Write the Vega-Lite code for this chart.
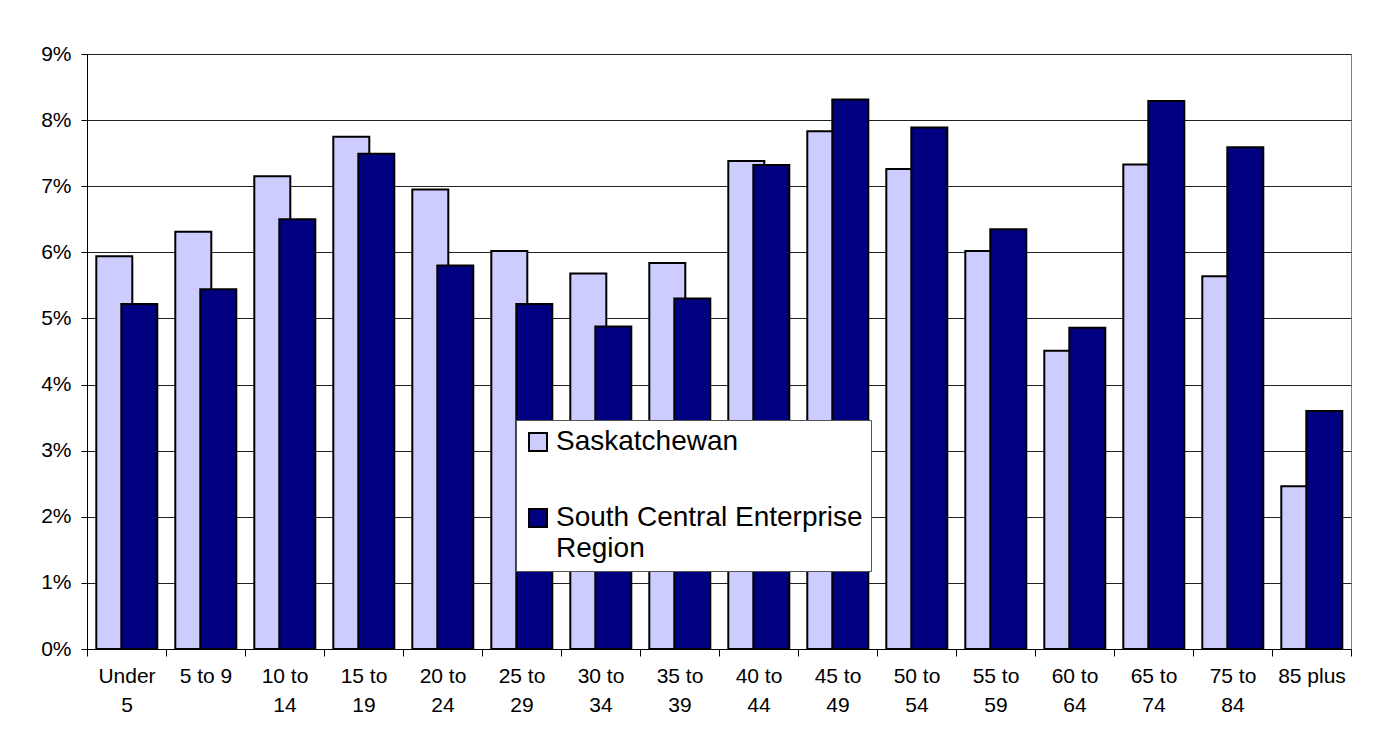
{
  "$schema": "https://vega.github.io/schema/vega-lite/v6.json",
  "width": 1264,
  "height": 595,
  "autosize": {"type": "none"},
  "padding": {"left": 87, "top": 54, "right": 25, "bottom": 104},
  "background": "white",
  "data": {
    "values": [
      {"age": "Under 5", "region": "Saskatchewan", "share": 0.0594},
      {"age": "5 to 9", "region": "Saskatchewan", "share": 0.0631},
      {"age": "10 to 14", "region": "Saskatchewan", "share": 0.0715},
      {"age": "15 to 19", "region": "Saskatchewan", "share": 0.0775},
      {"age": "20 to 24", "region": "Saskatchewan", "share": 0.0695},
      {"age": "25 to 29", "region": "Saskatchewan", "share": 0.0602},
      {"age": "30 to 34", "region": "Saskatchewan", "share": 0.0568},
      {"age": "35 to 39", "region": "Saskatchewan", "share": 0.0584},
      {"age": "40 to 44", "region": "Saskatchewan", "share": 0.0738},
      {"age": "45 to 49", "region": "Saskatchewan", "share": 0.0783},
      {"age": "50 to 54", "region": "Saskatchewan", "share": 0.0726},
      {"age": "55 to 59", "region": "Saskatchewan", "share": 0.0602},
      {"age": "60 to 64", "region": "Saskatchewan", "share": 0.0451},
      {"age": "65 to 74", "region": "Saskatchewan", "share": 0.0733},
      {"age": "75 to 84", "region": "Saskatchewan", "share": 0.0564},
      {"age": "85 plus", "region": "Saskatchewan", "share": 0.0246},
      {"age": "Under 5", "region": "South Central Enterprise Region", "share": 0.0522},
      {"age": "5 to 9", "region": "South Central Enterprise Region", "share": 0.0544},
      {"age": "10 to 14", "region": "South Central Enterprise Region", "share": 0.0650},
      {"age": "15 to 19", "region": "South Central Enterprise Region", "share": 0.0749},
      {"age": "20 to 24", "region": "South Central Enterprise Region", "share": 0.0580},
      {"age": "25 to 29", "region": "South Central Enterprise Region", "share": 0.0522},
      {"age": "30 to 34", "region": "South Central Enterprise Region", "share": 0.0488},
      {"age": "35 to 39", "region": "South Central Enterprise Region", "share": 0.0530},
      {"age": "40 to 44", "region": "South Central Enterprise Region", "share": 0.0732},
      {"age": "45 to 49", "region": "South Central Enterprise Region", "share": 0.0831},
      {"age": "50 to 54", "region": "South Central Enterprise Region", "share": 0.0789},
      {"age": "55 to 59", "region": "South Central Enterprise Region", "share": 0.0635},
      {"age": "60 to 64", "region": "South Central Enterprise Region", "share": 0.0486},
      {"age": "65 to 74", "region": "South Central Enterprise Region", "share": 0.0829},
      {"age": "75 to 84", "region": "South Central Enterprise Region", "share": 0.0759},
      {"age": "85 plus", "region": "South Central Enterprise Region", "share": 0.0360}
    ]
  },
  "mark": {"type": "bar", "stroke": "black", "strokeWidth": 2, "width": {"band": 1.44}},
  "encoding": {
    "x": {
      "field": "age",
      "type": "nominal",
      "sort": null,
      "title": null,
      "scale": {"paddingInner": 0, "paddingOuter": 0},
      "axis": {
        "labelAngle": 0,
        "tickBand": "extent",
        "grid": false,
        "tickSize": 7,
        "labelPadding": 9,
        "labelFontSize": 21,
        "labelLineHeight": 29,
        "labelExpr": "(datum.label == '5 to 9' || datum.label == '85 plus') ? datum.label : [slice(datum.label, 0, lastindexof(datum.label, ' ')), slice(datum.label, lastindexof(datum.label, ' ') + 1)]"
      }
    },
    "xOffset": {
      "field": "region",
      "type": "nominal",
      "sort": ["Saskatchewan", "South Central Enterprise Region"],
      "scale": {"paddingInner": 0, "paddingOuter": 0.58, "align": 0.92}
    },
    "y": {
      "field": "share",
      "type": "quantitative",
      "title": null,
      "scale": {"domain": [0, 0.09], "nice": false},
      "axis": {
        "values": [0, 0.01, 0.02, 0.03, 0.04, 0.05, 0.06, 0.07, 0.08, 0.09],
        "format": ".0%",
        "tickSize": 6,
        "labelPadding": 10,
        "labelFontSize": 21,
        "grid": true,
        "gridColor": "#222222",
        "gridWidth": 1
      }
    },
    "color": {
      "field": "region",
      "type": "nominal",
      "scale": {"domain": ["Saskatchewan", "South Central Enterprise Region"], "range": ["#CCCCFF", "#000080"]},
      "legend": {
        "title": null,
        "orient": "none",
        "legendX": 429,
        "legendY": 366,
        "direction": "vertical",
        "fillColor": "white",
        "strokeColor": "#555555",
        "padding": 8,
        "symbolType": "square",
        "symbolSize": 324,
        "symbolStrokeColor": "black",
        "symbolStrokeWidth": 2,
        "symbolOpacity": 1,
        "labelFontSize": 28,
        "labelColor": "black",
        "labelLimit": 0,
        "labelOffset": 4,
        "rowPadding": 48,
        "labelExpr": "datum.label == 'South Central Enterprise Region' ? ['South Central Enterprise', 'Region'] : datum.label",
        "encode": {"labels": {"update": {"lineHeight": {"value": 31}}}}
      }
    }
  },
  "config": {
    "font": "Liberation Sans",
    "view": {"stroke": "#808080", "strokeWidth": 1},
    "axis": {
      "labelFont": "Liberation Sans",
      "labelColor": "black",
      "domainColor": "black",
      "domainWidth": 1,
      "tickColor": "black",
      "tickWidth": 1
    },
    "legend": {"labelFont": "Liberation Sans"}
  }
}
